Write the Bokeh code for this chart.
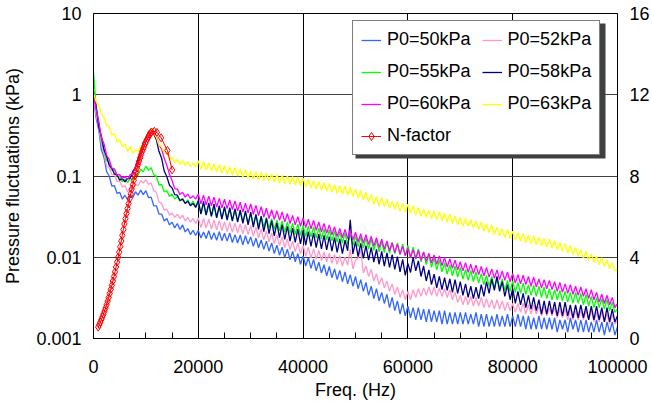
from bokeh.plotting import figure
from bokeh.models import (Range1d, LinearAxis, LinearScale, FixedTicker, SingleIntervalTicker,
                          BasicTickFormatter, CustomJSTickFormatter, Legend, LegendItem,
                          BoxAnnotation)
from bokeh.embed import file_html
from bokeh.resources import INLINE

# Frequency grid (Hz), 500 Hz steps
freq = list(range(0, 100001, 500))

# Pressure fluctuation spectra (kPa)
# *_low: 0 .. 19500 Hz, *_high: 20000 .. 100000 Hz
p50_low = [0.95, 0.52, 0.37, 0.21, 0.17, 0.113, 0.10, 0.075, 0.076, 0.061,
           0.063, 0.052, 0.058, 0.051, 0.059, 0.054, 0.064, 0.058, 0.067, 0.059,
           0.066, 0.054, 0.055, 0.043, 0.043, 0.034, 0.034, 0.028, 0.030, 0.025,
           0.027, 0.023, 0.026, 0.022, 0.025, 0.0205, 0.0225, 0.019, 0.0215, 0.0185]
p50_high = [0.0215, 0.0172, 0.0205, 0.0170, 0.0212, 0.0165, 0.0200, 0.0162, 0.0206, 0.0160,
            0.0197, 0.0158, 0.0199, 0.0152, 0.0190, 0.0150, 0.0188, 0.0142, 0.0184, 0.0145,
            0.0178, 0.0136, 0.0172, 0.0131, 0.0163, 0.0125, 0.0158, 0.0119, 0.0150, 0.0111,
            0.0141, 0.0106, 0.0133, 0.0099, 0.0126, 0.0093, 0.0118, 0.0088, 0.0111, 0.0082,
            0.0104, 0.0078, 0.0099, 0.0073, 0.0094, 0.0068, 0.0087, 0.0064, 0.0081, 0.0059,
            0.0077, 0.0056, 0.0072, 0.0053, 0.0069, 0.0050, 0.0066, 0.0047, 0.0061, 0.0044,
            0.0058, 0.0041, 0.0053, 0.0038, 0.0049, 0.0034, 0.0044, 0.0031, 0.0041, 0.0029,
            0.0037, 0.0027, 0.0035, 0.0024, 0.0032, 0.0022, 0.0029, 0.0020, 0.0027, 0.0019,
            0.0025, 0.0018, 0.0024, 0.0017, 0.0024, 0.0017, 0.0023, 0.0016, 0.0023, 0.0016,
            0.0022, 0.0016, 0.0022, 0.0015, 0.0022, 0.0015, 0.0021, 0.0015, 0.0021, 0.0015,
            0.0021, 0.0015, 0.0021, 0.0015, 0.0020, 0.0015, 0.0021, 0.0014, 0.0020, 0.0014,
            0.0020, 0.0014, 0.0019, 0.0014, 0.0020, 0.0014, 0.0019, 0.0014, 0.0020, 0.0014,
            0.0019, 0.0014, 0.0020, 0.0014, 0.0019, 0.0013, 0.0019, 0.0013, 0.0018, 0.0013,
            0.0019, 0.0013, 0.0018, 0.0013, 0.0018, 0.0013, 0.0018, 0.0012, 0.0017, 0.0013,
            0.0017, 0.0012, 0.0018, 0.0013, 0.0017, 0.0012, 0.0017, 0.0012, 0.0017, 0.0012,
            0.0016, 0.0012, 0.0017, 0.0012, 0.0016, 0.0011, 0.0016, 0.0012, 0.0016, 0.0011,
            0.0014]

p52_low = [1.0, 0.57, 0.40, 0.25, 0.19, 0.133, 0.126, 0.104, 0.105, 0.085,
           0.087, 0.073, 0.076, 0.064, 0.072, 0.067, 0.079, 0.076, 0.088, 0.082,
           0.09, 0.079, 0.082, 0.066, 0.063, 0.048, 0.046, 0.038, 0.039, 0.033,
           0.035, 0.031, 0.034, 0.030, 0.033, 0.028, 0.031, 0.027, 0.030, 0.026]
p52_high = [0.0305, 0.0232, 0.0300, 0.0229, 0.0294, 0.0223, 0.0288, 0.0218, 0.0281, 0.0213,
            0.0274, 0.0207, 0.0268, 0.0203, 0.0263, 0.0198, 0.0257, 0.0194, 0.0251, 0.0190,
            0.0245, 0.0182, 0.0234, 0.0173, 0.0222, 0.0164, 0.0211, 0.0155, 0.0199, 0.0147,
            0.0188, 0.0139, 0.0178, 0.0131, 0.0168, 0.0124, 0.0158, 0.0117, 0.0149, 0.0110,
            0.0140, 0.0103, 0.0133, 0.0098, 0.0127, 0.0094, 0.0121, 0.0091, 0.0116, 0.0088,
            0.0112, 0.0084, 0.0108, 0.0082, 0.0105, 0.0078, 0.0100, 0.0080, 0.0125, 0.0072,
            0.0092, 0.0098, 0.0125, 0.0064, 0.0078, 0.0058, 0.0071, 0.0051, 0.0063, 0.0046,
            0.0056, 0.0042, 0.0051, 0.0038, 0.0047, 0.0035, 0.0043, 0.0032, 0.0040, 0.0030,
            0.0038, 0.0030, 0.0040, 0.0032, 0.0041, 0.0033, 0.0042, 0.0034, 0.0043, 0.0034,
            0.0043, 0.0033, 0.0042, 0.0033, 0.0041, 0.0032, 0.0040, 0.0030, 0.0037, 0.0028,
            0.0034, 0.0026, 0.0033, 0.0026, 0.0033, 0.0025, 0.0032, 0.0025, 0.0032, 0.0024,
            0.0031, 0.0024, 0.0030, 0.0023, 0.0030, 0.0023, 0.0029, 0.0022, 0.0028, 0.0022,
            0.0027, 0.0021, 0.0027, 0.0021, 0.0027, 0.0020, 0.0026, 0.0020, 0.0026, 0.0020,
            0.0025, 0.0019, 0.0025, 0.0019, 0.0024, 0.0019, 0.0024, 0.0018, 0.0023, 0.0018,
            0.0023, 0.0017, 0.0023, 0.0017, 0.0022, 0.0017, 0.0022, 0.0017, 0.0022, 0.0017,
            0.0022, 0.0016, 0.0021, 0.0016, 0.0021, 0.0016, 0.0020, 0.0015, 0.0020, 0.0015,
            0.0017]

p55_low = [1.9, 0.72, 0.47, 0.28, 0.21, 0.155, 0.145, 0.118, 0.12, 0.099,
           0.099, 0.085, 0.092, 0.083, 0.094, 0.09, 0.106, 0.102, 0.121, 0.113,
           0.132, 0.118, 0.126, 0.104, 0.099, 0.078, 0.078, 0.064, 0.066, 0.056,
           0.060, 0.052, 0.056, 0.049, 0.053, 0.046, 0.051, 0.044, 0.049, 0.042]
p55_high = [0.0465, 0.0348, 0.0455, 0.0335, 0.0440, 0.0322, 0.0425, 0.0312, 0.0412, 0.0305,
            0.0400, 0.0296, 0.0390, 0.0287, 0.0378, 0.0278, 0.0366, 0.0270, 0.0355, 0.0262,
            0.0345, 0.0253, 0.0333, 0.0245, 0.0322, 0.0236, 0.0310, 0.0228, 0.0299, 0.0220,
            0.0288, 0.0210, 0.0280, 0.0204, 0.0272, 0.0198, 0.0263, 0.0192, 0.0255, 0.0186,
            0.0247, 0.0181, 0.0241, 0.0177, 0.0236, 0.0172, 0.0230, 0.0168, 0.0224, 0.0164,
            0.0218, 0.0159, 0.0212, 0.0154, 0.0205, 0.0149, 0.0198, 0.0144, 0.0191, 0.0139,
            0.0184, 0.0135, 0.0178, 0.0130, 0.0172, 0.0126, 0.0167, 0.0122, 0.0161, 0.0117,
            0.0155, 0.0114, 0.0153, 0.0112, 0.0151, 0.0111, 0.0150, 0.0108, 0.0145, 0.0105,
            0.0140, 0.0100, 0.0133, 0.0095, 0.0127, 0.0088, 0.0116, 0.0081, 0.0107, 0.0075,
            0.0098, 0.0070, 0.0092, 0.0066, 0.0086, 0.0062, 0.0081, 0.0059, 0.0078, 0.0057,
            0.0075, 0.0054, 0.0071, 0.0052, 0.0069, 0.0050, 0.0066, 0.0048, 0.0063, 0.0046,
            0.0060, 0.0044, 0.0058, 0.0042, 0.0056, 0.0041, 0.0054, 0.0039, 0.0052, 0.0038,
            0.0051, 0.0037, 0.0049, 0.0036, 0.0048, 0.0035, 0.0046, 0.0034, 0.0045, 0.0033,
            0.0044, 0.0032, 0.0043, 0.0031, 0.0041, 0.0030, 0.0040, 0.0030, 0.0039, 0.0029,
            0.0038, 0.0028, 0.0037, 0.0027, 0.0037, 0.0027, 0.0036, 0.0026, 0.0035, 0.0025,
            0.0033, 0.0024, 0.0032, 0.0024, 0.0031, 0.0023, 0.0030, 0.0022, 0.0028, 0.0021,
            0.0023]

p58_low = [1.1, 0.72, 0.40, 0.31, 0.21, 0.175, 0.135, 0.124, 0.106, 0.103,
           0.089, 0.093, 0.085, 0.093, 0.094, 0.114, 0.126, 0.165, 0.195, 0.26,
           0.29, 0.35, 0.38, 0.33, 0.28, 0.20, 0.165, 0.115, 0.098, 0.077,
           0.071, 0.059, 0.058, 0.050, 0.052, 0.046, 0.049, 0.043, 0.046, 0.041]
p58_high = [0.0500, 0.0340, 0.0486, 0.0330, 0.0468, 0.0318, 0.0450, 0.0305, 0.0432, 0.0295,
            0.0420, 0.0287, 0.0408, 0.0279, 0.0396, 0.0270, 0.0384, 0.0262, 0.0372, 0.0250,
            0.0360, 0.0235, 0.0336, 0.0220, 0.0318, 0.0207, 0.0300, 0.0195, 0.0282, 0.0183,
            0.0264, 0.0174, 0.0252, 0.0166, 0.0240, 0.0158, 0.0228, 0.0152, 0.0222, 0.0146,
            0.0214, 0.0141, 0.0206, 0.0136, 0.0199, 0.0131, 0.0192, 0.0127, 0.0186, 0.0123,
            0.0180, 0.0119, 0.0174, 0.0115, 0.0168, 0.0111, 0.0162, 0.0120, 0.0290, 0.0110,
            0.0156, 0.0102, 0.0148, 0.0097, 0.0139, 0.0092, 0.0132, 0.0087, 0.0125, 0.0082,
            0.0118, 0.0078, 0.0113, 0.0075, 0.0108, 0.0071, 0.0102, 0.0066, 0.0094, 0.0060,
            0.0084, 0.0065, 0.0100, 0.0068, 0.0090, 0.0058, 0.0078, 0.0051, 0.0070, 0.0046,
            0.0062, 0.0042, 0.0058, 0.0040, 0.0056, 0.0039, 0.0054, 0.0037, 0.0053, 0.0036,
            0.0050, 0.0034, 0.0047, 0.0032, 0.0044, 0.0031, 0.0043, 0.0031, 0.0046, 0.0033,
            0.0050, 0.0036, 0.0054, 0.0039, 0.0058, 0.0038, 0.0050, 0.0033, 0.0046, 0.0030,
            0.0041, 0.0027, 0.0038, 0.0026, 0.0036, 0.0024, 0.0034, 0.0023, 0.0032, 0.0022,
            0.0030, 0.0020, 0.0029, 0.0020, 0.0029, 0.0020, 0.0028, 0.0019, 0.0028, 0.0019,
            0.0028, 0.0019, 0.0026, 0.0018, 0.0026, 0.0018, 0.0026, 0.0018, 0.0025, 0.0017,
            0.0025, 0.0017, 0.0025, 0.0017, 0.0024, 0.0016, 0.0024, 0.0016, 0.0023, 0.0016,
            0.0019]

p60_low = [1.0, 0.66, 0.47, 0.30, 0.25, 0.18, 0.16, 0.125, 0.122, 0.103,
           0.104, 0.093, 0.099, 0.090, 0.104, 0.106, 0.13, 0.145, 0.19, 0.22,
           0.28, 0.30, 0.35, 0.34, 0.31, 0.24, 0.215, 0.165, 0.135, 0.105,
           0.088, 0.070, 0.069, 0.059, 0.063, 0.055, 0.060, 0.053, 0.057, 0.052]
p60_high = [0.0600, 0.0455, 0.0582, 0.0442, 0.0565, 0.0429, 0.0548, 0.0416, 0.0531, 0.0405,
            0.0520, 0.0396, 0.0508, 0.0387, 0.0494, 0.0372, 0.0475, 0.0361, 0.0463, 0.0352,
            0.0452, 0.0338, 0.0435, 0.0325, 0.0418, 0.0312, 0.0401, 0.0300, 0.0384, 0.0292,
            0.0373, 0.0284, 0.0362, 0.0272, 0.0345, 0.0260, 0.0328, 0.0250, 0.0316, 0.0241,
            0.0305, 0.0232, 0.0294, 0.0224, 0.0283, 0.0215, 0.0271, 0.0206, 0.0260, 0.0198,
            0.0249, 0.0189, 0.0237, 0.0180, 0.0226, 0.0174, 0.0220, 0.0170, 0.0215, 0.0163,
            0.0203, 0.0154, 0.0195, 0.0149, 0.0189, 0.0143, 0.0181, 0.0137, 0.0174, 0.0132,
            0.0167, 0.0126, 0.0159, 0.0120, 0.0151, 0.0114, 0.0145, 0.0109, 0.0137, 0.0104,
            0.0130, 0.0099, 0.0125, 0.0096, 0.0121, 0.0092, 0.0116, 0.0089, 0.0112, 0.0085,
            0.0107, 0.0082, 0.0104, 0.0079, 0.0099, 0.0076, 0.0096, 0.0073, 0.0092, 0.0070,
            0.0088, 0.0068, 0.0086, 0.0065, 0.0082, 0.0063, 0.0080, 0.0061, 0.0077, 0.0059,
            0.0075, 0.0057, 0.0072, 0.0055, 0.0070, 0.0053, 0.0068, 0.0052, 0.0066, 0.0050,
            0.0063, 0.0048, 0.0061, 0.0047, 0.0060, 0.0046, 0.0058, 0.0044, 0.0057, 0.0043,
            0.0054, 0.0042, 0.0053, 0.0041, 0.0052, 0.0040, 0.0050, 0.0038, 0.0049, 0.0037,
            0.0047, 0.0036, 0.0046, 0.0035, 0.0044, 0.0034, 0.0043, 0.0033, 0.0041, 0.0031,
            0.0040, 0.0030, 0.0037, 0.0028, 0.0035, 0.0027, 0.0034, 0.0026, 0.0032, 0.0024,
            0.0027]

p63_low = [1.05, 0.82, 0.74, 0.58, 0.53, 0.42, 0.40, 0.32, 0.33, 0.26,
           0.28, 0.23, 0.25, 0.20, 0.23, 0.19, 0.21, 0.20, 0.23, 0.24,
           0.31, 0.34, 0.38, 0.33, 0.30, 0.24, 0.23, 0.19, 0.19, 0.16,
           0.17, 0.145, 0.16, 0.14, 0.155, 0.135, 0.15, 0.13, 0.145, 0.13]
p63_high = [0.154, 0.121, 0.150, 0.118, 0.146, 0.115, 0.142, 0.112, 0.138, 0.109,
            0.134, 0.106, 0.130, 0.103, 0.127, 0.100, 0.122, 0.097, 0.119, 0.094,
            0.115, 0.091, 0.113, 0.090, 0.111, 0.088, 0.109, 0.086, 0.106, 0.084,
            0.104, 0.082, 0.102, 0.080, 0.100, 0.079, 0.099, 0.078, 0.097, 0.076,
            0.094, 0.073, 0.091, 0.071, 0.088, 0.069, 0.086, 0.067, 0.083, 0.065,
            0.081, 0.063, 0.078, 0.061, 0.076, 0.060, 0.075, 0.058, 0.073, 0.056,
            0.069, 0.054, 0.066, 0.051, 0.063, 0.048, 0.059, 0.045, 0.056, 0.043,
            0.054, 0.042, 0.052, 0.040, 0.049, 0.039, 0.048, 0.037, 0.046, 0.036,
            0.045, 0.035, 0.043, 0.033, 0.041, 0.032, 0.039, 0.031, 0.038, 0.030,
            0.037, 0.029, 0.036, 0.028, 0.035, 0.027, 0.034, 0.026, 0.032, 0.025,
            0.031, 0.024, 0.030, 0.024, 0.029, 0.023, 0.028, 0.022, 0.027, 0.021,
            0.026, 0.020, 0.025, 0.019, 0.0235, 0.0183, 0.0224, 0.0175, 0.0218, 0.0170,
            0.0209, 0.0163, 0.0202, 0.0157, 0.0195, 0.0152, 0.0188, 0.0146, 0.0183, 0.0142,
            0.0177, 0.0138, 0.0171, 0.0134, 0.0167, 0.0129, 0.0160, 0.0124, 0.0152, 0.0119,
            0.0146, 0.0113, 0.0139, 0.0108, 0.0132, 0.0103, 0.0125, 0.0098, 0.0118, 0.0092,
            0.0110, 0.0086, 0.0104, 0.0081, 0.0099, 0.0077, 0.0093, 0.0072, 0.0086, 0.0068,
            0.0072]

# N-factor (right axis)
n_freq = [900, 1100, 1300, 1500, 1700, 1900, 2100, 2300, 2500, 2700,
          2900, 3100, 3300, 3500, 3700, 3900, 4100, 4300, 4500, 4700,
          4900, 5100, 5300, 5500, 5700, 5900, 6100, 6300, 6500, 6700,
          6900, 7100, 7300, 7500, 7700, 7900, 8100, 8300, 8500, 8700,
          8900, 9100, 9300, 9500, 9700, 9900, 10100, 10300, 10500, 10700,
          10900, 11100, 11600, 12100, 12900, 14100, 15000]
n_factor = [0.56, 0.68, 0.80, 0.93, 1.06, 1.20, 1.35, 1.50, 1.66, 1.84,
            2.02, 2.22, 2.42, 2.62, 2.83, 3.05, 3.28, 3.52, 3.76, 4.00,
            4.25, 4.52, 4.80, 5.08, 5.36, 5.64, 5.90, 6.15, 6.40, 6.64,
            6.88, 7.12, 7.35, 7.57, 7.79, 8.00, 8.20, 8.38, 8.56, 8.73,
            8.90, 9.06, 9.21, 9.35, 9.48, 9.61, 9.73, 9.84, 9.94, 10.03,
            10.11, 10.17, 10.20, 10.15, 9.88, 9.26, 8.30]

series = [
    ("P0=50kPa", p50_low + p50_high, "#3366FF"),
    ("P0=52kPa", p52_low + p52_high, "#FF99CC"),
    ("P0=55kPa", p55_low + p55_high, "#00FF00"),
    ("P0=58kPa", p58_low + p58_high, "#000080"),
    ("P0=60kPa", p60_low + p60_high, "#FF00FF"),
    ("P0=63kPa", p63_low + p63_high, "#FFFF00"),
]

y_ticks = [0.001, 0.01, 0.1, 1, 10]
n_ticks = [0, 4, 8, 12, 16]

FONT = "Liberation Sans"
FS = "18px"

p = figure(width=652, height=402, y_axis_type="log",
           x_range=Range1d(0, 100000), y_range=Range1d(0.001, 10),
           output_backend="svg", toolbar_location=None,
           min_border_left=92, min_border_right=34, min_border_top=13, min_border_bottom=64,
           background_fill_color="white", border_fill_color="white")
p.extra_y_ranges = {"n": Range1d(0, 16)}
p.extra_y_scales = {"n": LinearScale()}
p.outline_line_color = "black"
p.outline_line_width = 1

renderers = {}
for name, vals, col in series:
    n = min(len(freq), len(vals))
    r = p.line(freq[:n], vals[:n], line_color=col, line_width=1.3)
    renderers[name] = r

n_line = p.line(n_freq, n_factor, y_range_name="n", line_color="#FF0000", line_width=1)
n_pts = p.scatter(n_freq, n_factor, y_range_name="n", marker="diamond", size=8,
                  line_color="#FF0000", fill_color=None, line_width=1)

# Axes
xa = p.xaxis[0]
xa.ticker = SingleIntervalTicker(interval=20000, num_minor_ticks=4)
xa.formatter = BasicTickFormatter(use_scientific=False)
xa.axis_label = "Freq. (Hz)"
xa.major_tick_in = 6
xa.major_tick_out = 0
xa.minor_tick_in = 6
xa.minor_tick_out = 0
xa.major_label_standoff = 21
xa.axis_label_standoff = 4
xa.major_label_text_line_height = 1.0
xa.axis_label_text_line_height = 1.0

ya = p.yaxis[0]
ya.ticker = FixedTicker(ticks=y_ticks, minor_ticks=[])
ya.formatter = CustomJSTickFormatter(code="return String(tick);")
ya.axis_label = "Pressure fluctuations (kPa)"
ya.major_tick_in = 0
ya.major_tick_out = 0
ya.minor_tick_line_color = None
ya.major_label_standoff = 12
ya.axis_label_standoff = 10

ra = LinearAxis(y_range_name="n", ticker=FixedTicker(ticks=n_ticks))
ra.major_tick_in = 0
ra.major_tick_out = 0
ra.minor_tick_line_color = None
ra.major_label_standoff = 12
p.add_layout(ra, "right")

for ax in (xa, ya, ra):
    ax.axis_line_color = "black"
    ax.major_tick_line_color = "black"
    ax.major_label_text_font = FONT
    ax.major_label_text_font_size = FS
    ax.major_label_text_color = "black"
    ax.axis_label_text_font = FONT
    ax.axis_label_text_font_size = FS
    ax.axis_label_text_font_style = "normal"
    ax.axis_label_text_color = "black"
xa.minor_tick_line_color = "black"

p.xgrid.grid_line_color = "black"
p.xgrid.grid_line_width = 1
p.ygrid.grid_line_color = "#404040"
p.ygrid.grid_line_width = 1

# drop shadow behind the legend box (screen units, from the frame's bottom-left)
shadow = BoxAnnotation(left=262, right=512, bottom=180, top=315,
                       left_units="screen", right_units="screen",
                       bottom_units="screen", top_units="screen",
                       fill_color="#404040", fill_alpha=1.0, line_color=None)
p.add_layout(shadow)

legend = Legend(items=[
    LegendItem(label="P0=50kPa", renderers=[renderers["P0=50kPa"]]),
    LegendItem(label="P0=52kPa", renderers=[renderers["P0=52kPa"]]),
    LegendItem(label="P0=55kPa", renderers=[renderers["P0=55kPa"]]),
    LegendItem(label="P0=58kPa", renderers=[renderers["P0=58kPa"]]),
    LegendItem(label="P0=60kPa", renderers=[renderers["P0=60kPa"]]),
    LegendItem(label="P0=63kPa", renderers=[renderers["P0=63kPa"]]),
    LegendItem(label="N-factor", renderers=[n_line, n_pts]),
], location=(259, 183), orientation="horizontal", ncols=2)
legend.label_text_font = FONT
legend.label_text_font_size = FS
legend.label_text_color = "black"
legend.label_standoff = 6
legend.glyph_width = 20
legend.glyph_height = 20
legend.label_height = 20
legend.spacing = 11
legend.padding = 8
legend.margin = 0
legend.border_line_color = "black"
legend.border_line_width = 1
legend.background_fill_color = "white"
legend.background_fill_alpha = 1
p.add_layout(legend)

open("out.html", "w").write(file_html(p, INLINE))
